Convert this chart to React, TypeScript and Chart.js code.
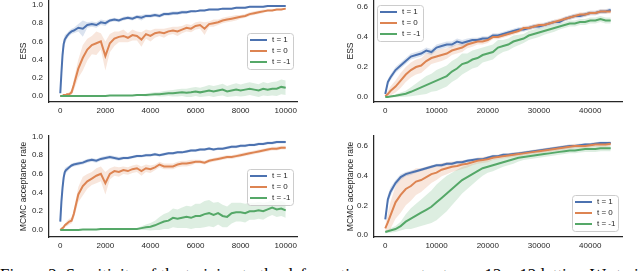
import React, { useEffect, useRef } from "react";
import { Chart, registerables } from "chart.js";

Chart.register(...registerables);

// ---------- labels & ticks ----------
const SERIES_LABELS = ["t = 1", "t = 0", "t = -1"];
const LEFT_X_TICKS = [0, 2000, 4000, 6000, 8000, 10000];
const RIGHT_X_TICKS = [0, 10000, 20000, 30000, 40000];
const LEFT_Y_TICKS = [0, 0.2, 0.4, 0.6, 0.8, 1.0];
const RIGHT_Y_TICKS = [0, 0.2, 0.4, 0.6];
const CAPTION =
  "Figure 2: Sensitivity of the training to the deformation parameter t on a 12 \u00d7 12 lattice. We trai";

// ---------- training steps ----------
const LEFT_STEPS = [
  0, 50, 100, 150, 200, 250, 300, 400, 500, 600, 800, 1000, 1200, 1400, 1600, 1800, 2000, 2200, 2400,
  2600, 2800, 3000, 3200, 3400, 3600, 3800, 4000, 4200, 4400, 4600, 4800, 5000, 5200, 5400, 5600,
  5800, 6000, 6200, 6400, 6600, 6800, 7000, 7200, 7400, 7600, 7800, 8000, 8200, 8400, 8600, 8800,
  9000, 9200, 9400, 9600, 9800, 10000,
];
const RIGHT_STEPS = [
  0, 500, 1000, 2000, 3000, 4000, 5000, 6000, 7000, 8000, 9000, 10000, 11000, 12000, 13000, 14000,
  15000, 16000, 17000, 18000, 19000, 20000, 21000, 22000, 23000, 24000, 25000, 26000, 27000, 28000,
  29000, 30000, 31000, 32000, 33000, 34000, 35000, 36000, 37000, 38000, 39000, 40000, 41000, 42000,
  43000, 44000,
];

// ---------- top-left: ESS (left run) ----------
const TL_T1 = [
  0.03, 0.25, 0.45, 0.57, 0.62, 0.64, 0.66, 0.69, 0.71, 0.72, 0.75, 0.74, 0.78, 0.79, 0.78, 0.81, 0.8,
  0.83, 0.84, 0.83, 0.85, 0.86, 0.85, 0.87, 0.86, 0.88, 0.88, 0.89, 0.88, 0.9, 0.9, 0.91, 0.91, 0.92,
  0.92, 0.93, 0.93, 0.94, 0.94, 0.95, 0.95, 0.95, 0.96, 0.96, 0.96, 0.97, 0.97, 0.97, 0.98, 0.98, 0.98,
  0.98, 0.99, 0.99, 0.99, 0.99, 0.99,
];
const TL_T0 = [
  0, 0, 0, 0.01, 0.01, 0.01, 0.02, 0.02, 0.04, 0.12, 0.3, 0.42, 0.51, 0.56, 0.58, 0.6, 0.44, 0.58, 0.63,
  0.65, 0.66, 0.64, 0.67, 0.66, 0.62, 0.68, 0.66, 0.69, 0.7, 0.69, 0.71, 0.72, 0.71, 0.73, 0.75, 0.74,
  0.77, 0.78, 0.74, 0.79, 0.8, 0.81, 0.83, 0.84, 0.85, 0.86, 0.87, 0.88, 0.9, 0.91, 0.92, 0.93, 0.94,
  0.94, 0.95, 0.95, 0.96,
];
const TL_TM1 = [
  0, 0, 0, 0, 0, 0, 0, 0, 0, 0, 0, 0, 0, 0, 0, 0, 0, 0.005, 0.005, 0.005, 0.005, 0.005, 0.005, 0.01, 0.01,
  0.01, 0.015, 0.02, 0.02, 0.025, 0.03, 0.03, 0.035, 0.04, 0.035, 0.04, 0.05, 0.04, 0.05, 0.06, 0.05,
  0.06, 0.07, 0.05, 0.06, 0.07, 0.06, 0.07, 0.08, 0.07, 0.06, 0.08, 0.07, 0.08, 0.08, 0.1, 0.09,
];
const TL_T1_SD = [
  0.01, 0.06, 0.08, 0.06, 0.05, 0.04, 0.03, 0.03, 0.03, 0.03, 0.04, 0.09, 0.03, 0.03, 0.03, 0.03, 0.03,
  0.02, 0.02, 0.02, 0.02, 0.02, 0.02, 0.02, 0.03, 0.02, 0.02, 0.02, 0.02, 0.02, 0.02, 0.02, 0.02, 0.02,
  0.02, 0.01, 0.01, 0.01, 0.01, 0.01, 0.01, 0.01, 0.01, 0.01, 0.01, 0.01, 0.01, 0.01, 0.01, 0.01, 0.01,
  0.01, 0.01, 0.01, 0.01, 0.01, 0.01,
];
const TL_T0_SD = [
  0.01, 0.01, 0.01, 0.01, 0.01, 0.01, 0.01, 0.02, 0.03, 0.06, 0.1, 0.14, 0.12, 0.1, 0.13, 0.09, 0.16,
  0.1, 0.08, 0.06, 0.07, 0.05, 0.06, 0.05, 0.08, 0.05, 0.06, 0.05, 0.04, 0.05, 0.04, 0.04, 0.05, 0.04,
  0.04, 0.04, 0.04, 0.04, 0.07, 0.03, 0.04, 0.03, 0.03, 0.03, 0.03, 0.03, 0.02, 0.02, 0.02, 0.02, 0.02,
  0.02, 0.01, 0.01, 0.01, 0.01, 0.01,
];
const TL_TM1_SD = [
  0.003, 0.003, 0.003, 0.003, 0.003, 0.003, 0.003, 0.003, 0.003, 0.003, 0.003, 0.003, 0.003, 0.003,
  0.003, 0.003, 0.003, 0.005, 0.005, 0.005, 0.005, 0.005, 0.005, 0.005, 0.01, 0.015, 0.02, 0.02, 0.025,
  0.03, 0.03, 0.035, 0.04, 0.04, 0.045, 0.05, 0.05, 0.05, 0.055, 0.06, 0.06, 0.06, 0.065, 0.06, 0.065,
  0.07, 0.065, 0.07, 0.07, 0.07, 0.07, 0.075, 0.07, 0.075, 0.08, 0.08, 0.08,
];

// ---------- bottom-left: MCMC acceptance rate (left run) ----------
const BL_T1 = [
  0.09, 0.3, 0.45, 0.56, 0.62, 0.64, 0.65, 0.67, 0.69, 0.7, 0.71, 0.72, 0.74, 0.75, 0.74, 0.76, 0.77,
  0.78, 0.77, 0.76, 0.77, 0.77, 0.78, 0.79, 0.79, 0.8, 0.8, 0.81, 0.8, 0.81, 0.82, 0.82, 0.83, 0.83,
  0.84, 0.85, 0.85, 0.86, 0.86, 0.87, 0.86, 0.87, 0.87, 0.88, 0.89, 0.89, 0.9, 0.9, 0.91, 0.91, 0.92,
  0.92, 0.93, 0.93, 0.94, 0.94, 0.94,
];
const BL_T0 = [
  0, 0.01, 0.02, 0.03, 0.05, 0.06, 0.07, 0.09, 0.1, 0.17, 0.38, 0.47, 0.52, 0.55, 0.58, 0.6, 0.5, 0.6,
  0.63, 0.62, 0.64, 0.63, 0.65, 0.66, 0.63, 0.66, 0.65, 0.67, 0.7, 0.68, 0.68, 0.68, 0.7, 0.71, 0.71,
  0.72, 0.73, 0.73, 0.72, 0.74, 0.75, 0.76, 0.77, 0.78, 0.78, 0.79, 0.8, 0.81, 0.82, 0.83, 0.84, 0.85,
  0.86, 0.87, 0.87, 0.88, 0.88,
];
const BL_TM1 = [
  0, 0, 0, 0, 0, 0, 0, 0, 0, 0, 0, 0.005, 0.005, 0.005, 0.005, 0.01, 0.01, 0.01, 0.01, 0.01, 0.01, 0.01,
  0.01, 0.01, 0.02, 0.03, 0.035, 0.05, 0.07, 0.09, 0.1, 0.13, 0.12, 0.13, 0.14, 0.13, 0.15, 0.15, 0.17,
  0.18, 0.16, 0.18, 0.15, 0.14, 0.18, 0.19, 0.19, 0.18, 0.2, 0.2, 0.21, 0.2, 0.22, 0.24, 0.22, 0.23,
  0.21,
];
const BL_T1_SD = [
  0.02, 0.06, 0.07, 0.05, 0.04, 0.03, 0.03, 0.02, 0.02, 0.02, 0.02, 0.02, 0.02, 0.02, 0.02, 0.02, 0.02,
  0.02, 0.02, 0.02, 0.015, 0.015, 0.015, 0.015, 0.015, 0.015, 0.015, 0.015, 0.015, 0.015, 0.015, 0.015,
  0.015, 0.015, 0.015, 0.015, 0.015, 0.015, 0.015, 0.015, 0.015, 0.015, 0.015, 0.015, 0.015, 0.015,
  0.015, 0.015, 0.015, 0.015, 0.015, 0.015, 0.015, 0.015, 0.015, 0.015, 0.015,
];
const BL_T0_SD = [
  0.01, 0.01, 0.02, 0.02, 0.02, 0.02, 0.03, 0.03, 0.03, 0.05, 0.08, 0.1, 0.08, 0.07, 0.08, 0.08, 0.12,
  0.06, 0.05, 0.05, 0.04, 0.04, 0.04, 0.04, 0.05, 0.04, 0.04, 0.03, 0.03, 0.03, 0.03, 0.03, 0.03, 0.03,
  0.03, 0.03, 0.02, 0.02, 0.02, 0.02, 0.02, 0.02, 0.02, 0.02, 0.02, 0.02, 0.02, 0.02, 0.02, 0.02, 0.02,
  0.02, 0.02, 0.02, 0.02, 0.02, 0.02,
];
const BL_TM1_SD = [
  0.005, 0.005, 0.005, 0.005, 0.005, 0.005, 0.005, 0.005, 0.005, 0.005, 0.005, 0.005, 0.005, 0.005,
  0.005, 0.005, 0.005, 0.005, 0.005, 0.005, 0.005, 0.005, 0.005, 0.005, 0.02, 0.03, 0.04, 0.05, 0.07,
  0.08, 0.09, 0.1, 0.1, 0.11, 0.12, 0.12, 0.13, 0.13, 0.14, 0.14, 0.13, 0.12, 0.12, 0.11, 0.11, 0.1,
  0.1, 0.1, 0.09, 0.09, 0.09, 0.09, 0.08, 0.08, 0.08, 0.08, 0.08,
];

// ---------- top-right: ESS (right run) ----------
const TR_T1 = [
  0.02, 0.1, 0.13, 0.18, 0.21, 0.24, 0.27, 0.28, 0.29, 0.31, 0.3, 0.33, 0.34, 0.35, 0.35, 0.37, 0.36,
  0.37, 0.38, 0.38, 0.39, 0.39, 0.41, 0.41, 0.42, 0.43, 0.44, 0.45, 0.45, 0.46, 0.47, 0.47, 0.48, 0.49,
  0.5, 0.5, 0.52, 0.53, 0.54, 0.54, 0.55, 0.56, 0.56, 0.57, 0.57, 0.58,
];
const TR_T0 = [
  0.005, 0.02, 0.04, 0.07, 0.11, 0.15, 0.18, 0.2, 0.21, 0.24, 0.26, 0.27, 0.28, 0.29, 0.31, 0.32, 0.33,
  0.35, 0.36, 0.37, 0.37, 0.38, 0.4, 0.4, 0.41, 0.42, 0.43, 0.44, 0.46, 0.46, 0.47, 0.48, 0.48, 0.49,
  0.5, 0.51, 0.52, 0.53, 0.54, 0.55, 0.55, 0.56, 0.56, 0.57, 0.57, 0.57,
];
const TR_TM1 = [
  0, 0, 0.003, 0.008, 0.015, 0.022, 0.035, 0.05, 0.065, 0.08, 0.095, 0.11, 0.125, 0.14, 0.17, 0.19,
  0.22, 0.23, 0.25, 0.26, 0.28, 0.29, 0.3, 0.33, 0.34, 0.35, 0.37, 0.38, 0.39, 0.41, 0.42, 0.43, 0.44,
  0.45, 0.46, 0.47, 0.48, 0.49, 0.49, 0.5, 0.5, 0.51, 0.51, 0.52, 0.51, 0.51,
];
const TR_T1_SD = [
  0.005, 0.02, 0.02, 0.02, 0.02, 0.02, 0.02, 0.02, 0.02, 0.02, 0.02, 0.02, 0.02, 0.02, 0.02, 0.02, 0.02,
  0.02, 0.015, 0.015, 0.015, 0.015, 0.015, 0.015, 0.015, 0.015, 0.015, 0.015, 0.015, 0.015, 0.015,
  0.015, 0.015, 0.015, 0.015, 0.015, 0.015, 0.015, 0.015, 0.015, 0.015, 0.015, 0.015, 0.015, 0.015,
  0.015,
];
const TR_T0_SD = [
  0.005, 0.02, 0.03, 0.04, 0.05, 0.05, 0.05, 0.05, 0.05, 0.05, 0.04, 0.04, 0.04, 0.035, 0.03, 0.03, 0.03,
  0.025, 0.025, 0.02, 0.02, 0.02, 0.015, 0.015, 0.015, 0.015, 0.015, 0.015, 0.015, 0.015, 0.015, 0.015,
  0.015, 0.015, 0.015, 0.015, 0.015, 0.015, 0.015, 0.015, 0.015, 0.015, 0.015, 0.015, 0.015, 0.015,
];
const TR_TM1_SD = [
  0.002, 0.003, 0.005, 0.01, 0.015, 0.02, 0.03, 0.04, 0.05, 0.06, 0.06, 0.07, 0.07, 0.07, 0.07, 0.07,
  0.07, 0.06, 0.06, 0.06, 0.05, 0.05, 0.05, 0.05, 0.04, 0.04, 0.04, 0.035, 0.03, 0.03, 0.03, 0.03, 0.025,
  0.025, 0.025, 0.02, 0.02, 0.02, 0.02, 0.02, 0.02, 0.02, 0.02, 0.02, 0.02, 0.02,
];

// ---------- bottom-right: MCMC acceptance rate (right run) ----------
const BR_T1 = [
  0.105, 0.24, 0.29, 0.35, 0.39, 0.41, 0.42, 0.43, 0.44, 0.45, 0.46, 0.47, 0.47, 0.48, 0.48, 0.49, 0.49,
  0.5, 0.505, 0.51, 0.51, 0.52, 0.53, 0.53, 0.54, 0.54, 0.545, 0.55, 0.555, 0.56, 0.565, 0.57, 0.575,
  0.58, 0.585, 0.59, 0.595, 0.6, 0.6, 0.605, 0.61, 0.61, 0.615, 0.62, 0.62, 0.62,
];
const BR_T0 = [
  0.045, 0.085, 0.13, 0.22, 0.27, 0.31, 0.33, 0.36, 0.37, 0.39, 0.41, 0.42, 0.44, 0.45, 0.46, 0.465,
  0.475, 0.48, 0.49, 0.5, 0.505, 0.51, 0.52, 0.525, 0.53, 0.535, 0.54, 0.545, 0.55, 0.555, 0.56, 0.565,
  0.57, 0.575, 0.58, 0.585, 0.59, 0.595, 0.6, 0.6, 0.6, 0.605, 0.61, 0.61, 0.61, 0.615,
];
const BR_TM1 = [
  0.02, 0.025, 0.03, 0.04, 0.06, 0.09, 0.11, 0.13, 0.15, 0.17, 0.19, 0.22, 0.25, 0.28, 0.31, 0.34, 0.37,
  0.39, 0.41, 0.43, 0.45, 0.46, 0.47, 0.48, 0.49, 0.5, 0.51, 0.52, 0.525, 0.53, 0.535, 0.54, 0.545,
  0.55, 0.555, 0.56, 0.565, 0.57, 0.57, 0.575, 0.58, 0.58, 0.58, 0.585, 0.585, 0.585,
];
const BR_T1_SD = [
  0.02, 0.03, 0.03, 0.02, 0.02, 0.015, 0.015, 0.01, 0.01, 0.01, 0.01, 0.01, 0.01, 0.01, 0.01, 0.01, 0.01,
  0.01, 0.01, 0.01, 0.01, 0.01, 0.01, 0.01, 0.01, 0.01, 0.01, 0.01, 0.01, 0.01, 0.01, 0.01, 0.01, 0.01,
  0.01, 0.01, 0.01, 0.01, 0.01, 0.01, 0.01, 0.01, 0.01, 0.01, 0.01, 0.01,
];
const BR_T0_SD = [
  0.02, 0.06, 0.09, 0.11, 0.12, 0.11, 0.1, 0.09, 0.08, 0.07, 0.06, 0.05, 0.045, 0.04, 0.035, 0.03, 0.03,
  0.025, 0.02, 0.02, 0.02, 0.02, 0.015, 0.015, 0.015, 0.015, 0.015, 0.015, 0.015, 0.015, 0.015, 0.015,
  0.015, 0.015, 0.015, 0.015, 0.015, 0.015, 0.015, 0.015, 0.015, 0.015, 0.015, 0.015, 0.015, 0.015,
];
const BR_TM1_SD = [
  0.01, 0.01, 0.015, 0.02, 0.03, 0.05, 0.07, 0.08, 0.09, 0.1, 0.11, 0.12, 0.12, 0.12, 0.11, 0.1, 0.09,
  0.08, 0.07, 0.06, 0.05, 0.04, 0.04, 0.035, 0.03, 0.03, 0.03, 0.025, 0.02, 0.02, 0.02, 0.02, 0.02,
  0.02, 0.02, 0.02, 0.02, 0.02, 0.02, 0.02, 0.02, 0.02, 0.02, 0.02, 0.02, 0.02,
];

// ---------- style ----------
const COLORS = ["#4C72B0", "#DD8452", "#55A868"];
const BAND_COLORS = ["rgba(76,114,176,0.2)", "rgba(221,132,82,0.2)", "rgba(85,168,104,0.2)"];
const FONT = '"Liberation Sans", Arial, sans-serif';
const INK = "#262626";

const boxLegend = {
  id: "boxLegend",
  afterDraw(chart: any, _args: any, opts: any) {
    const a = chart.chartArea;
    const ctx = chart.ctx;
    const w = 46;
    const h = 36;
    let x = a.right - 4 - w;
    let y = (a.top + a.bottom) / 2 - h / 2;
    if (opts.loc === "upper left") {
      x = a.left + 3;
      y = a.top + 5;
    } else if (opts.loc === "lower right") {
      y = a.bottom - 6 - h;
    }
    x = Math.round(x);
    y = Math.round(y);
    ctx.save();
    ctx.beginPath();
    ctx.roundRect(x + 0.5, y + 0.5, w, h, 3);
    ctx.fillStyle = "rgba(255,255,255,0.8)";
    ctx.fill();
    ctx.strokeStyle = "#cccccc";
    ctx.lineWidth = 1;
    ctx.stroke();
    ctx.font = `8px ${FONT}`;
    ctx.textBaseline = "middle";
    ctx.textAlign = "left";
    (opts.labels || []).forEach((lab: string, i: number) => {
      const cy = y + 7 + i * 11;
      ctx.beginPath();
      ctx.moveTo(x + 3, cy);
      ctx.lineTo(x + 20, cy);
      ctx.strokeStyle = COLORS[i];
      ctx.lineWidth = 2;
      ctx.stroke();
      ctx.fillStyle = INK;
      ctx.fillText(lab, x + 25, cy);
    });
    ctx.restore();
  },
};

type Box = { left: number; top: number; width: number; height: number };
type Area = { left: number; top: number; right: number; bottom: number };

function Panel(props: {
  pos: Box;
  area: Area;
  xs: number[];
  series: number[][];
  sds: number[][];
  xRange: [number, number];
  yRange: [number, number];
  xTicks: number[];
  yTicks: number[];
  yTitle: string;
  titlePad: number;
  legendLoc: string;
}) {
  const ref = useRef<HTMLCanvasElement | null>(null);
  const { pos, area, xs, series, sds, xRange, yRange, xTicks, yTicks, yTitle, titlePad, legendLoc } = props;

  useEffect(() => {
    if (!ref.current) return;
    const datasets: any[] = [];
    series.forEach((s, i) => {
      datasets.push({
        data: xs.map((x, k) => ({ x, y: s[k] - sds[i][k] })),
        borderWidth: 0,
        borderColor: "transparent",
        pointRadius: 0,
        fill: false,
        order: 10,
      });
      datasets.push({
        data: xs.map((x, k) => ({ x, y: s[k] + sds[i][k] })),
        borderWidth: 0,
        borderColor: "transparent",
        backgroundColor: BAND_COLORS[i],
        pointRadius: 0,
        fill: "-1",
        order: 10,
      });
    });
    series.forEach((s, i) => {
      datasets.push({
        label: SERIES_LABELS[i],
        data: xs.map((x, k) => ({ x, y: s[k] })),
        borderColor: COLORS[i],
        borderWidth: 2,
        pointRadius: 0,
        fill: false,
        tension: 0,
        order: 3 - i,
      });
    });

    const tickFont = { family: FONT, size: 8 };
    const chart = new Chart(ref.current, {
      type: "line",
      data: { datasets },
      plugins: [boxLegend as any],
      options: {
        animation: false,
        responsive: false,
        devicePixelRatio: 1,
        events: [],
        layout: {
          padding: {
            left: 0,
            top: area.top - pos.top,
            right: pos.left + pos.width - area.right,
            bottom: 0,
          },
        },
        plugins: {
          legend: { display: false },
          tooltip: { enabled: false },
          boxLegend: { loc: legendLoc, labels: SERIES_LABELS },
        } as any,
        scales: {
          x: {
            type: "linear",
            min: xRange[0],
            max: xRange[1],
            afterBuildTicks: (s: any) => {
              s.ticks = xTicks.map((v) => ({ value: v }));
            },
            afterFit: (s: any) => {
              s.height = pos.top + pos.height - area.bottom;
              s.paddingLeft = 0;
              s.paddingRight = 0;
            },
            grid: { display: false, drawTicks: false },
            border: { display: true, color: INK, width: 1.25 },
            ticks: {
              font: tickFont,
              color: INK,
              padding: 4,
              maxRotation: 0,
              minRotation: 0,
              autoSkip: false,
              callback: (v: any) => String(v),
            },
          },
          y: {
            type: "linear",
            min: yRange[0],
            max: yRange[1],
            afterBuildTicks: (s: any) => {
              s.ticks = yTicks.map((v) => ({ value: v }));
            },
            afterFit: (s: any) => {
              s.width = area.left - pos.left;
              s.paddingTop = 0;
              s.paddingBottom = 0;
            },
            grid: { display: false, drawTicks: false },
            border: { display: true, color: INK, width: 1.25 },
            ticks: {
              font: tickFont,
              color: INK,
              padding: 6,
              autoSkip: false,
              callback: (v: any) => Number(v).toFixed(1),
            },
            title: {
              display: true,
              text: yTitle,
              color: INK,
              font: { family: FONT, size: 8.5 },
              padding: { top: titlePad, bottom: 0 },
            },
          },
        },
      } as any,
    });
    return () => chart.destroy();
  }, []);

  return (
    <canvas
      ref={ref}
      width={pos.width}
      height={pos.height}
      style={{ position: "absolute", left: pos.left, top: pos.top, width: pos.width, height: pos.height }}
    />
  );
}

export default function App() {
  return (
    <div
      style={{
        position: "absolute",
        left: 0,
        top: 0,
        width: 640,
        height: 271,
        overflow: "hidden",
        background: "#ffffff",
      }}
    >
      <Panel
        pos={{ left: 0, top: 0, width: 320, height: 128 }}
        area={{ left: 49, top: 0, right: 297, bottom: 102 }}
        xs={LEFT_STEPS}
        series={[TL_T1, TL_T0, TL_TM1]}
        sds={[TL_T1_SD, TL_T0_SD, TL_TM1_SD]}
        xRange={[-500, 10500]}
        yRange={[-0.066, 1.055]}
        xTicks={LEFT_X_TICKS}
        yTicks={LEFT_Y_TICKS}
        yTitle="ESS"
        titlePad={19}
        legendLoc="center right"
      />
      <Panel
        pos={{ left: 320, top: 0, width: 320, height: 128 }}
        area={{ left: 374, top: 0, right: 622, bottom: 102 }}
        xs={RIGHT_STEPS}
        series={[TR_T1, TR_T0, TR_TM1]}
        sds={[TR_T1_SD, TR_T0_SD, TR_TM1_SD]}
        xRange={[-2200, 46200]}
        yRange={[-0.033, 0.647]}
        xTicks={RIGHT_X_TICKS}
        yTicks={RIGHT_Y_TICKS}
        yTitle="ESS"
        titlePad={26}
        legendLoc="upper left"
      />
      <Panel
        pos={{ left: 0, top: 128, width: 320, height: 130 }}
        area={{ left: 49, top: 136, right: 297, bottom: 237 }}
        xs={LEFT_STEPS}
        series={[BL_T1, BL_T0, BL_TM1]}
        sds={[BL_T1_SD, BL_T0_SD, BL_TM1_SD]}
        xRange={[-500, 10500]}
        yRange={[-0.075, 1.005]}
        xTicks={LEFT_X_TICKS}
        yTicks={LEFT_Y_TICKS}
        yTitle="MCMC acceptance rate"
        titlePad={19}
        legendLoc="center right"
      />
      <Panel
        pos={{ left: 320, top: 128, width: 320, height: 130 }}
        area={{ left: 374, top: 136, right: 622, bottom: 237 }}
        xs={RIGHT_STEPS}
        series={[BR_T1, BR_T0, BR_TM1]}
        sds={[BR_T1_SD, BR_T0_SD, BR_TM1_SD]}
        xRange={[-2200, 46200]}
        yRange={[-0.0135, 0.667]}
        xTicks={RIGHT_X_TICKS}
        yTicks={RIGHT_Y_TICKS}
        yTitle="MCMC acceptance rate"
        titlePad={26}
        legendLoc="lower right"
      />
      <div
        style={{
          position: "absolute",
          left: 0,
          top: 267,
          whiteSpace: "nowrap",
          fontFamily: '"Liberation Serif", "Times New Roman", serif',
          fontSize: 16.9,
          lineHeight: 1,
          color: "#000000",
        }}
      >
        {CAPTION}
      </div>
    </div>
  );
}
